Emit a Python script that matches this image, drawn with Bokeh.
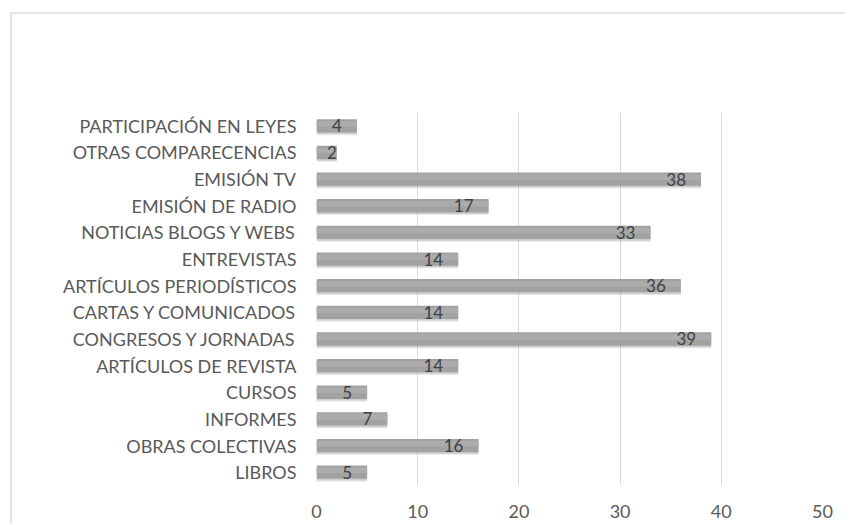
import numpy as np
from bokeh.plotting import figure
from bokeh.models import ColumnDataSource, FixedTicker, Range1d, FactorRange
from bokeh.transform import dodge
from bokeh.core.properties import value
from bokeh.embed import file_html
from bokeh.resources import INLINE

categories = ["LIBROS", "OBRAS COLECTIVAS", "INFORMES", "CURSOS",
              "ARTÍCULOS DE REVISTA", "CONGRESOS Y JORNADAS",
              "CARTAS Y COMUNICADOS", "ARTÍCULOS PERIODÍSTICOS",
              "ENTREVISTAS", "NOTICIAS BLOGS Y WEBS", "EMISIÓN DE RADIO",
              "EMISIÓN TV", "OTRAS COMPARECENCIAS", "PARTICIPACIÓN EN LEYES"]
counts = [5, 16, 7, 5, 14, 39, 14, 36, 14, 33, 17, 38, 2, 4]
x_ticks = [0, 10, 20, 30, 40, 50]

FONT = "Lato"

src = ColumnDataSource(dict(
    cat=categories,
    v=counts,
    lx=np.maximum(np.array(counts, dtype=float), 3.5),
    lab=[str(c) for c in counts],
))

p = figure(width=835, height=511, output_backend="svg", toolbar_location=None,
           y_range=FactorRange(factors=categories, range_padding=0),
           x_range=Range1d(0, 50),
           min_border_left=304, min_border_right=25,
           min_border_top=98, min_border_bottom=40)
p.margin = (12, 0, 0, 10)
p.styles = {"border-top": "2px solid #e4e4e4", "border-left": "2px solid #e4e4e4"}

p.outline_line_color = None
p.background_fill_color = "white"
p.border_fill_color = "white"

# soft shadow
p.hbar(y=dodge("cat", -0.1, range=p.y_range), right="v", left=0, height=0.5,
       source=src, fill_color="#808080", fill_alpha=0.18, line_color=None)
p.hbar(y=dodge("cat", -0.06, range=p.y_range), right="v", left=0, height=0.5,
       source=src, fill_color="#808080", fill_alpha=0.25, line_color=None)
# bars
p.hbar(y="cat", right="v", left=0, height=0.5, source=src,
       fill_color="#a2a2a2", line_color=None)
p.hbar(y=dodge("cat", 0.07, range=p.y_range), right="v", left=0, height=0.2,
       source=src, fill_color="#acacac", line_color=None)

p.text(x="lx", y="cat", text="lab", source=src, x_offset=-15,
       text_align="right", text_baseline="middle",
       text_font=value(FONT), text_font_size="17px", text_color="#404040")

p.xaxis.ticker = FixedTicker(ticks=x_ticks)
p.xgrid.ticker = FixedTicker(ticks=x_ticks)
p.xgrid.grid_line_color = "#d9d9d9"
p.ygrid.grid_line_color = None

for ax in (p.xaxis, p.yaxis):
    ax.axis_line_color = None
    ax.major_tick_line_color = None
    ax.minor_tick_line_color = None
    ax.major_label_text_font = FONT
    ax.major_label_text_font_size = "18px"
    ax.major_label_text_color = "#595959"
p.xaxis.major_label_standoff = 13
p.yaxis.major_label_standoff = 14

open("out.html", "w").write(file_html(p, INLINE))
